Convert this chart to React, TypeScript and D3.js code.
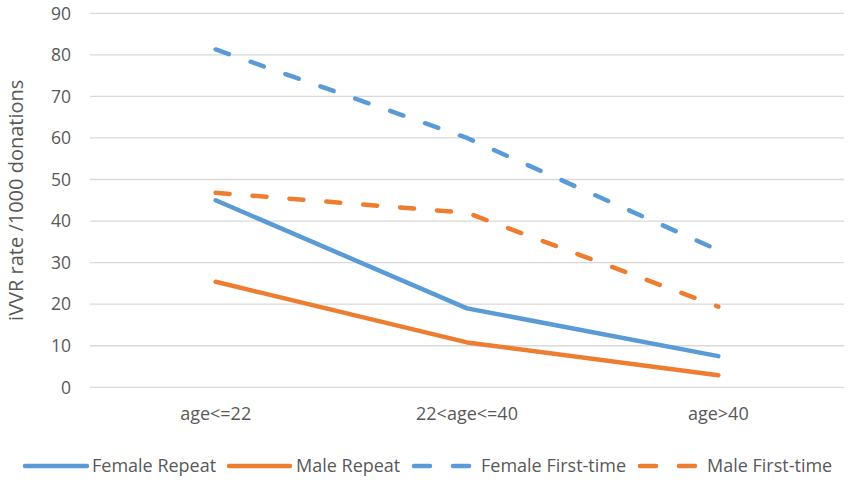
import * as d3 from 'd3';

const categories = ['age<=22', '22<age<=40', 'age>40'];
const yTicks = [0, 10, 20, 30, 40, 50, 60, 70, 80, 90];

const femaleRepeat = [45, 19, 7.5];
const maleRepeat = [25.4, 10.8, 2.9];
const femaleFirst = [81.3, 60, 33];
const maleFirst = [46.8, 42, 19.4];

const BLUE = '#5B9BD5';
const ORANGE = '#ED7D31';
const TEXT = '#595959';
const FONT = '"Open Sans", "Noto Sans", sans-serif';

const series = [
  { name: 'Female Repeat', values: femaleRepeat, color: BLUE, dashed: false },
  { name: 'Male Repeat', values: maleRepeat, color: ORANGE, dashed: false },
  { name: 'Female First-time', values: femaleFirst, color: BLUE, dashed: true },
  { name: 'Male First-time', values: maleFirst, color: ORANGE, dashed: true },
];

const W = 850;
const H = 482;
const plot = { left: 90, right: 844, top: 13.3, bottom: 387.3 };
const DASH = '14 23';
const SW = 4.5;

export default function App() {
  const x = d3
    .scaleBand<string>()
    .domain(categories)
    .range([plot.left, plot.right]);
  const y = d3.scaleLinear().domain([0, 90]).range([plot.bottom, plot.top]);
  const cx = (c: string) => (x(c) ?? 0) + x.bandwidth() / 2;

  const line = d3
    .line<number>()
    .x((_, i) => cx(categories[i]))
    .y((v) => y(v));

  const legend = [
    { x0: 25, x1: 87, tx: 92 },
    { x0: 229, x1: 290, tx: 296 },
    { x0: 414, x1: 472, tx: 481 },
    { x0: 640, x1: 698, tx: 707 },
  ];

  return (
    <div style={{ position: 'absolute', left: 0, top: 0 }}>
      <svg width={W} height={H} viewBox={`0 0 ${W} ${H}`} style={{ display: 'block', background: '#fff' }}>
        {yTicks.map((t) => (
          <g key={t}>
            <line x1={plot.left} x2={plot.right} y1={y(t)} y2={y(t)} stroke="#D9D9D9" strokeWidth={1.3} />
            <text
              x={71}
              y={y(t)}
              dy="0.36em"
              textAnchor="end"
              fontFamily={FONT}
              fontSize={17.5}
              fill={TEXT}
            >
              {t}
            </text>
          </g>
        ))}
        {categories.map((c) => (
          <text key={c} x={cx(c)} y={420} textAnchor="middle" fontFamily={FONT} fontSize={18} fill={TEXT}>
            {c}
          </text>
        ))}
        <text
          transform={`translate(23,${(plot.top + plot.bottom) / 2}) rotate(-90)`}
          textAnchor="middle"
          fontFamily={FONT}
          fontSize={20}
          fill={TEXT}
        >
          iVVR rate /1000 donations
        </text>
        {series.map((s) => (
          <path
            key={s.name}
            d={line(s.values) ?? ''}
            fill="none"
            stroke={s.color}
            strokeWidth={SW}
            strokeLinecap="round"
            strokeLinejoin="round"
            strokeDasharray={s.dashed ? DASH : undefined}
          />
        ))}
        {series.map((s, i) => (
          <g key={s.name}>
            <line
              x1={legend[i].x0}
              x2={legend[i].x1}
              y1={466}
              y2={466}
              stroke={s.color}
              strokeWidth={SW}
              strokeLinecap="round"
              strokeDasharray={s.dashed ? '16 23' : undefined}
            />
            <text x={legend[i].tx} y={466} dy="0.36em" fontFamily={FONT} fontSize={18} fill={TEXT}>
              {s.name}
            </text>
          </g>
        ))}
      </svg>
    </div>
  );
}
